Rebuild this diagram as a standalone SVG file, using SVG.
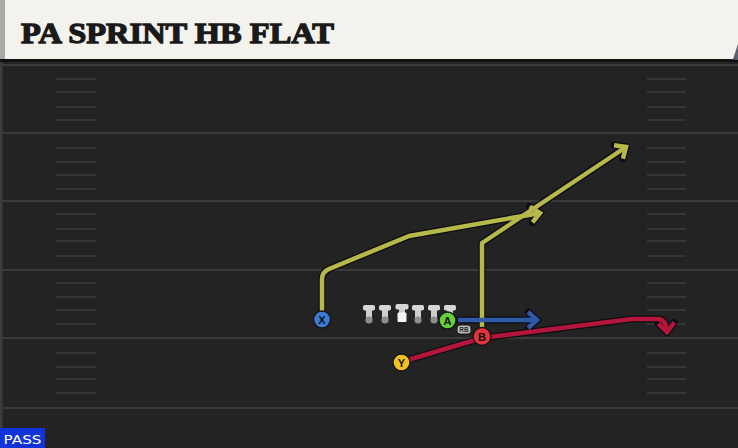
<svg xmlns="http://www.w3.org/2000/svg" xmlns:xlink="http://www.w3.org/1999/xlink" width="738" height="448" viewBox="0 0 738 448">
  <style>
    .yard { stroke: #3a3a3a; stroke-width: 2; }
    .hash { stroke: #3d3d3d; stroke-width: 1.6; }
    .outline { fill: none; stroke: #0d0d12; stroke-width: 7; stroke-linejoin: round; stroke-linecap: round; }
    .route { fill: none; stroke-width: 4.5; stroke-linejoin: round; stroke-linecap: butt; }
    .yel { stroke: #b6b84a; }
    .blu { stroke: #2f5aa8; }
    .red { stroke: #b3163a; }
    .btn { stroke: #151515; stroke-width: 1.4; }
    .ltr { font-family: "Liberation Sans", Arial, sans-serif; font-weight: bold; font-size: 11px; fill: #111; text-anchor: middle; }
    .title { font-family: "Liberation Serif", "DejaVu Serif", serif; font-weight: bold; font-size: 30px; fill: #1a1a1a; stroke: #1a1a1a; stroke-width: 1.3; stroke-linejoin: miter; }
  </style>
  <defs>
    <marker id="arrDark" viewBox="-14 -14 28 28" markerWidth="28" markerHeight="28" refX="0" refY="0" orient="auto" markerUnits="userSpaceOnUse">
      <path d="M-9,-8 L0,0 L-9,8" fill="none" stroke="#0d0d12" stroke-width="7" stroke-linejoin="miter" stroke-linecap="round"/>
    </marker>
    <marker id="arrYel" viewBox="-14 -14 28 28" markerWidth="28" markerHeight="28" refX="0" refY="0" orient="auto" markerUnits="userSpaceOnUse">
      <path d="M-9,-8 L0,0 L-9,8" fill="none" stroke="#b6b84a" stroke-width="4.5" stroke-linejoin="miter"/>
    </marker>
    <marker id="arrBlu" viewBox="-14 -14 28 28" markerWidth="28" markerHeight="28" refX="0" refY="0" orient="auto" markerUnits="userSpaceOnUse">
      <path d="M-9,-8 L0,0 L-9,8" fill="none" stroke="#2f5aa8" stroke-width="4.5" stroke-linejoin="miter"/>
    </marker>
    <marker id="arrRed" viewBox="-14 -14 28 28" markerWidth="28" markerHeight="28" refX="0" refY="0" orient="auto" markerUnits="userSpaceOnUse">
      <path d="M-9,-8 L0,0 L-9,8" fill="none" stroke="#b3163a" stroke-width="4.5" stroke-linejoin="miter"/>
    </marker>
    <g id="tman">
      <rect x="-3" y="3" width="6" height="12" fill="#cdcdcd"/>
      <rect x="-6" y="0" width="12" height="5.5" rx="1.8" fill="#d6d6d6"/>
      <circle cx="0" cy="15" r="3.6" fill="#8e8e8e"/>
    </g>
    <g id="cman">
      <rect x="-3" y="3" width="6" height="7" fill="#cdcdcd"/>
      <rect x="-6.5" y="0" width="13" height="5.5" rx="1.8" fill="#d6d6d6"/>
      <rect x="-4.5" y="8.5" width="9" height="9.5" rx="1.2" fill="#f4f4f4"/>
    </g>
  </defs>

  <!-- field -->
  <rect x="0" y="0" width="738" height="448" fill="#232323"/>
  <rect x="0" y="59" width="2.5" height="389" fill="#3c3c3c"/>
  <g id="yardlines">
    <line class="yard" x1="0" y1="65" x2="738" y2="65"/>
    <line class="yard" x1="0" y1="133" x2="738" y2="133"/>
    <line class="yard" x1="0" y1="201" x2="738" y2="201"/>
    <line class="yard" x1="0" y1="270" x2="738" y2="270"/>
    <line class="yard" x1="0" y1="338" x2="738" y2="338"/>
    <line class="yard" x1="0" y1="408" x2="738" y2="408"/>
  </g>
  <g id="hashes">
    <path class="hash" d="M56,79H96M56,92H96M56,107H96M56,120H96M56,148H96M56,162H96M56,175H96M56,189H96M56,214H96M56,229H96M56,241H96M56,256H96M56,283H96M56,297H96M56,310H96M56,324H96M56,353H96M56,367H96M56,379H96M56,393H96"/>
    <path class="hash" d="M647,79H686M647,92H686M647,107H686M647,120H686M647,148H686M647,162H686M647,175H686M647,189H686M647,214H686M647,229H686M647,241H686M647,256H686M647,283H686M647,297H686M647,310H686M647,324H686M647,353H686M647,367H686M647,379H686M647,393H686"/>
  </g>

  <!-- header -->
  <g id="header">
    <rect x="0" y="59" width="738" height="3" fill="#111"/>
    <polygon points="728,59 738,44 738,60" fill="#5d5f72"/>
    <polygon points="0,0 738,0 738,44 733,59 0,59" fill="#f4f2ec"/>
    <rect x="0" y="0" width="5" height="59" fill="#a9a9a9"/>
    <text class="title" x="21" y="43" textLength="313" lengthAdjust="spacingAndGlyphs">PA SPRINT HB FLAT</text>
  </g>

  <!-- connectors -->
  <g id="connectors">
    <path class="outline" d="M322,312 V279 Q322,272 329,269 L409,236 L540,213" marker-end="url(#arrDark)"/>
    <path class="outline" d="M482,328 V243 L626,147" marker-end="url(#arrDark)"/>
    <path class="outline" d="M458,320 H537" marker-end="url(#arrDark)"/>
    <path class="outline" d="M401,362 L482,338 L632,319 H658 Q666,319 667,332" marker-end="url(#arrDark)"/>

    <path class="route yel" d="M322,312 V279 Q322,272 329,269 L409,236 L540,213" marker-end="url(#arrYel)"/>
    <path class="route yel" d="M482,328 V243 L626,147" marker-end="url(#arrYel)"/>
    <path class="route blu" d="M458,320 H537" marker-end="url(#arrBlu)"/>
    <path class="route red" d="M401,362 L482,338 L632,319 H658 Q666,319 667,332" marker-end="url(#arrRed)"/>
  </g>

  <!-- offensive line -->
  <g id="ol1"><use xlink:href="#tman" x="369" y="305"/></g>
  <g id="ol2"><use xlink:href="#tman" x="385" y="305"/></g>
  <g id="center"><use xlink:href="#cman" x="402" y="304"/></g>
  <g id="ol4"><use xlink:href="#tman" x="418" y="305"/></g>
  <g id="ol5"><use xlink:href="#tman" x="434" y="305"/></g>
  <g id="te"><use xlink:href="#tman" x="450" y="305"/></g>

  <!-- players -->
  <g id="X">
    <circle class="btn" cx="322" cy="319.5" r="8.5" fill="#3b7ad6"/>
    <text class="ltr" x="322" y="323.5">X</text>
  </g>
  <g id="A">
    <circle class="btn" cx="447.5" cy="320.5" r="8.5" fill="#66cf3a"/>
    <text class="ltr" x="447.5" y="324.5">A</text>
  </g>
  <g id="RB">
    <rect x="457" y="325" width="14" height="9" rx="3" fill="#b9b9b9" stroke="#151515" stroke-width="1"/>
    <text x="464" y="332" font-family="Liberation Sans, Arial, sans-serif" font-size="6.5" font-weight="bold" fill="#2a2a2a" text-anchor="middle">RB</text>
  </g>
  <g id="B">
    <circle class="btn" cx="482" cy="336.5" r="9" fill="#e0353d"/>
    <text class="ltr" x="482" y="340.5">B</text>
  </g>
  <g id="Y">
    <circle class="btn" cx="401.5" cy="362.5" r="8.5" fill="#f1c023"/>
    <text class="ltr" x="401.5" y="366.5">Y</text>
  </g>

  <!-- pass label -->
  <g id="pass">
    <rect x="0" y="428" width="45" height="20" fill="#1233d8"/>
    <text x="3.5" y="444" font-family="DejaVu Sans, Liberation Sans, sans-serif" font-size="13" fill="#ffffff" textLength="38" lengthAdjust="spacingAndGlyphs">PASS</text>
  </g>
</svg>
